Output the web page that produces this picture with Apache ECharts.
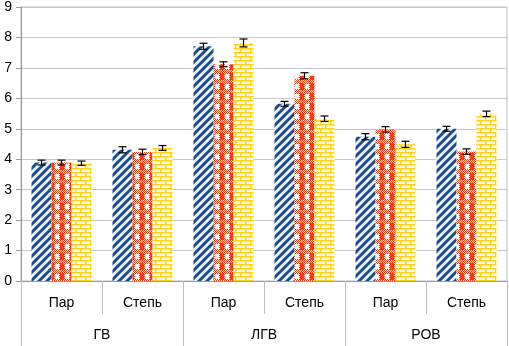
<!DOCTYPE html>
<html>
<head>
<meta charset="utf-8">
<script src="https://cdn.jsdelivr.net/npm/echarts@6/dist/echarts.min.js"></script>
<style>
html, body { margin: 0; padding: 0; background: #fff; }
#box { width: 509px; height: 346px; }
</style>
</head>
<body>
<div id="box"></div>
<script>
var subCats = ['Пар', 'Степь', 'Пар', 'Степь', 'Пар', 'Степь'];
var groupCats = ['ГВ', 'ЛГВ', 'РОВ'];
var yTicks = [0, 1, 2, 3, 4, 5, 6, 7, 8, 9];

var blueVals = [3.89, 4.31, 7.71, 5.82, 4.74, 5.0];
var redVals = [3.89, 4.24, 7.12, 6.74, 4.98, 4.25];
var yellowVals = [3.87, 4.37, 7.82, 5.33, 4.49, 5.49];

var blueErr = [0.08, 0.1, 0.1, 0.08, 0.1, 0.08];
var redErr = [0.08, 0.09, 0.08, 0.1, 0.09, 0.09];
var yellowErr = [0.07, 0.08, 0.13, 0.09, 0.1, 0.09];

function tile(w, h, draw) {
    var c = document.createElement('canvas');
    c.width = w; c.height = h;
    draw(c.getContext('2d'));
    return c;
}

var bluePattern = tile(8, 8, function (ctx) {
    ctx.fillStyle = '#eef4fb';
    ctx.fillRect(0, 0, 8, 8);
    ctx.strokeStyle = '#1b4d8e';
    ctx.lineWidth = 3;
    for (var k = -8; k <= 16; k += 8) {
        ctx.beginPath();
        ctx.moveTo(k - 1, 9);
        ctx.lineTo(k + 9, -1);
        ctx.stroke();
    }
});

// red plaid: solid band, checkered rows, white squares
var redPattern = tile(10, 10, function (ctx) {
    ctx.fillStyle = '#ffffff';
    ctx.fillRect(0, 0, 10, 10);
    ctx.fillStyle = '#ff3a12';
    for (var x = 0; x < 10; x++) {
        for (var y = 0; y < 10; y++) {
            if ((x + y) % 2 === 0) ctx.fillRect(x, y, 1, 1);
        }
    }
    ctx.fillRect(0, 3, 4, 7);
    ctx.fillStyle = '#ffffff';
    ctx.fillRect(5, 4, 4, 5);
});

var yellowPattern = tile(10, 8, function (ctx) {
    ctx.fillStyle = '#fffbe8';
    ctx.fillRect(0, 0, 10, 8);
    ctx.fillStyle = '#ffd21a';
    ctx.fillRect(0, 0, 10, 1.5);
    ctx.fillRect(0, 4, 10, 1.5);
    ctx.fillRect(0, 0, 1.5, 4);
    ctx.fillRect(5, 4, 1.5, 4);
});

var barW = 20;

function errorSeries(vals, errs, idx) {
    var data = vals.map(function (v, i) { return [i, v, errs[i]]; });
    return {
        type: 'custom',
        silent: true,
        z: 10,
        data: data,
        encode: { x: 0, y: [1] },
        renderItem: function (params, api) {
            var i = api.value(0), v = api.value(1), e = api.value(2);
            var hi = api.coord([i, v + e]);
            var lo = api.coord([i, v - e]);
            var x = hi[0] + (idx - 1) * barW;
            var cap = 4;
            var st = { stroke: '#000', lineWidth: 1.2 };
            return {
                type: 'group',
                children: [
                    { type: 'line', shape: { x1: x, y1: hi[1], x2: x, y2: lo[1] }, style: st },
                    { type: 'line', shape: { x1: x - cap, y1: hi[1], x2: x + cap, y2: hi[1] }, style: st },
                    { type: 'line', shape: { x1: x - cap, y1: lo[1], x2: x + cap, y2: lo[1] }, style: st }
                ]
            };
        }
    };
}

var dom = document.getElementById('box');
var myChart = echarts.init(dom);

var option = {
    animation: false,
    grid: {
        left: 21, right: 2, top: 5, bottom: 65,
        show: true, borderColor: '#bfbfbf', borderWidth: 1
    },
    xAxis: [
        {
            type: 'category',
            data: subCats,
            position: 'bottom',
            axisLine: { lineStyle: { color: '#9a9a9a' } },
            axisTick: { show: true, length: 33, interval: 0, lineStyle: { color: '#bfbfbf' } },
            axisLabel: { color: '#000', fontSize: 14, fontFamily: 'Liberation Sans', margin: 15, interval: 0 }
        },
        {
            type: 'category',
            data: groupCats,
            position: 'bottom',
            axisLine: { show: false },
            axisTick: { show: true, length: 70, interval: 0, lineStyle: { color: '#bfbfbf' } },
            axisLabel: { color: '#000', fontSize: 14, fontFamily: 'Liberation Sans', margin: 47, interval: 0 }
        }
    ],
    yAxis: {
        type: 'value',
        min: yTicks[0],
        max: yTicks[yTicks.length - 1],
        interval: 1,
        axisLine: { show: true, lineStyle: { color: '#9a9a9a' } },
        axisTick: { show: true, length: 5, lineStyle: { color: '#9a9a9a' } },
        axisLabel: { color: '#000', fontSize: 14, fontFamily: 'Liberation Sans', margin: 9 },
        splitLine: { lineStyle: { color: '#c8c8c8' } }
    },
    series: [
        { name: 'blue', type: 'bar', data: blueVals, barWidth: barW, barGap: '0%',
          itemStyle: { color: { image: bluePattern, repeat: 'repeat' } } },
        { name: 'red', type: 'bar', data: redVals, barWidth: barW, barGap: '0%',
          itemStyle: { color: { image: redPattern, repeat: 'repeat' } } },
        { name: 'yellow', type: 'bar', data: yellowVals, barWidth: barW, barGap: '0%',
          itemStyle: { color: { image: yellowPattern, repeat: 'repeat' } } },
        errorSeries(blueVals, blueErr, 0),
        errorSeries(redVals, redErr, 1),
        errorSeries(yellowVals, yellowErr, 2)
    ]
};

if (option && typeof option === "object") {
    myChart.setOption(option, true);
}
</script>
</body>
</html>
